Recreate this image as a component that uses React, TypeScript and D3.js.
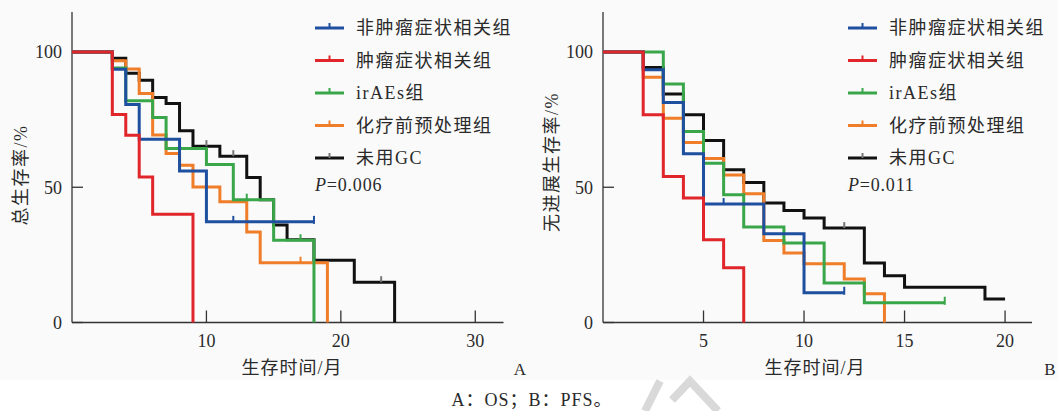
import React from "react";
import * as d3 from "d3";

// groups & colours
const groups = ["非肿瘤症状相关组", "肿瘤症状相关组", "irAEs组", "化疗前预处理组", "未用GC"];
const colors = ["#1f4f9f", "#e0262b", "#3aa64a", "#ef7d29", "#111111"];

// OS (panel A): step times (months) and survival (%) after each step
const osBlueT = [0, 3, 4, 5, 8, 10];
const osBlueS = [100, 93.6, 80.6, 67.7, 56, 37.2];
const osRedT = [0, 3, 4, 5, 6, 9];
const osRedS = [100, 76.9, 69.2, 53.8, 40, 0];
const osGreenT = [0, 3, 4, 6, 7, 10, 12, 15, 18];
const osGreenS = [100, 94.1, 82, 75.8, 64.3, 58.4, 45.4, 30.4, 0];
const osOrangeT = [0, 3, 4, 5, 6, 7, 8, 9, 11, 13, 14, 19];
const osOrangeS = [100, 96.8, 93.7, 84.7, 69.3, 62.5, 58.1, 50.1, 44.6, 33.5, 22.1, 0];
const osBlackT = [0, 3, 4, 5, 6, 7, 8, 9, 11, 13, 14, 15, 16, 18, 21, 24];
const osBlackS = [100, 97.7, 92.1, 89.6, 83.2, 81, 70.9, 65.2, 61.5, 53.6, 45.4, 36, 30.6, 23, 14.9, 0];
const osEnd = [18, 9, 18, 19, 24];
const osCensor = [[12, 18], [], [13, 17], [17], [10, 12, 23]];

// PFS (panel B)
const pfsBlueT = [0, 2, 3, 4, 5, 8, 10];
const pfsBlueS = [100, 93.4, 81.3, 62.4, 43.8, 32.8, 11];
const pfsRedT = [0, 2, 3, 4, 5, 6, 7];
const pfsRedS = [100, 76.8, 54, 46, 30.6, 20.2, 0];
const pfsGreenT = [0, 3, 4, 5, 6, 7, 9, 11, 13];
const pfsGreenS = [100, 88.2, 70.6, 58.9, 47.2, 35.3, 29.4, 14.6, 7.3];
const pfsOrangeT = [0, 2, 3, 4, 5, 6, 7, 8, 9, 10, 12, 13, 14];
const pfsOrangeS = [100, 90.7, 75.5, 66.5, 60.6, 54.5, 47.6, 30.3, 25.7, 21.7, 16.1, 10.6, 0];
const pfsBlackT = [0, 2, 3, 4, 5, 6, 7, 8, 9, 10, 11, 13, 14, 15, 19];
const pfsBlackS = [100, 94.3, 84.5, 76.8, 67.3, 56.5, 51.8, 44.2, 41.4, 38.6, 34.9, 22, 17.3, 13, 8.7];
const pfsEnd = [12, 7, 17, 14, 20];
const pfsCensor = [[6, 12], [], [17], [], [12]];

const yTicks = [0, 50, 100];
const osXTicks = [10, 20, 30];
const pfsXTicks = [5, 10, 15, 20];

const FONT = "'Liberation Serif', 'Noto Sans CJK SC', serif";
const TXT = "#2a2a2a";

function Panel({ x0, x1, xMax, xTicks, times, surv, ends, censors, yLabel, yLabelX, yLabelY, legendX, pText, xLabelX, letter, letterX }) {
  const x = d3.scaleLinear().domain([0, xMax]).range([x0, x1]);
  const y = d3.scaleLinear().domain([0, 100]).range([322.5, 52]);
  const line = d3
    .line()
    .x((d) => x(d[0]))
    .y((d) => y(d[1]))
    .curve(d3.curveStepAfter);

  const order = [4, 3, 2, 0, 1];
  const valueAt = (i, t) => {
    let v = surv[i][0];
    times[i].forEach((tt, k) => {
      if (tt <= t) v = surv[i][k];
    });
    return v;
  };

  return (
    <g>
      {/* axes */}
      <line x1={x0} x2={x0} y1={12} y2={y(0)} stroke="#333" strokeWidth={1.3} />
      <line x1={x0} x2={x1} y1={y(0)} y2={y(0)} stroke="#333" strokeWidth={1.3} />
      {yTicks.map((t) => (
        <g key={t}>
          <line x1={x0} x2={x0 + 11} y1={y(t)} y2={y(t)} stroke="#333" strokeWidth={1.3} />
          <text x={x0 - 10} y={y(t)} dy="0.35em" textAnchor="end" fontSize={18} fill={TXT}>{t}</text>
        </g>
      ))}
      {xTicks.map((t) => (
        <g key={t}>
          <line x1={x(t)} x2={x(t)} y1={y(0)} y2={y(0) - 12} stroke="#333" strokeWidth={1.3} />
          <text x={x(t)} y={347} textAnchor="middle" fontSize={18} fill={TXT}>{t}</text>
        </g>
      ))}
      <text transform={`translate(${yLabelX},${yLabelY}) rotate(-90)`} textAnchor="middle" dy="0.35em" fontSize={18} letterSpacing={1.5} fill={TXT}>{yLabel}</text>
      <text x={xLabelX} y={374} textAnchor="middle" fontSize={18} letterSpacing={1} fill={TXT}>生存时间/月</text>
      <text x={letterX} y={375} textAnchor="middle" fontSize={17} fill={TXT}>{letter}</text>

      {/* curves */}
      {order.map((i) => {
        const pts = times[i].map((t, k) => [t, surv[i][k]]);
        pts.push([ends[i], surv[i][surv[i].length - 1]]);
        return (
          <g key={i}>
            <path d={line(pts)} fill="none" stroke={colors[i]} strokeWidth={3} />
            {censors[i].map((c) => (
              <line key={c} x1={x(c)} x2={x(c)} y1={y(valueAt(i, c)) + (c === ends[i] ? 2 : 0)} y2={y(valueAt(i, c)) - 6} stroke={i === 4 ? "#777" : colors[i]} strokeWidth={2} />
            ))}
          </g>
        );
      })}

      {/* legend */}
      {groups.map((g, i) => {
        const ly = 28 + i * 32.5;
        return (
          <g key={g}>
            <line x1={legendX} x2={legendX + 29} y1={ly} y2={ly} stroke={colors[i]} strokeWidth={3} />
            <line x1={legendX + 14.5} x2={legendX + 14.5} y1={ly} y2={ly - 5} stroke={i === 4 ? "#777" : colors[i]} strokeWidth={2} />
            <text x={legendX + 41} y={ly} dy="0.36em" fontSize={18} letterSpacing={1.5} fill={TXT}>{g}</text>
          </g>
        );
      })}
      <text x={legendX} y={191} fontSize={18} fill={TXT} letterSpacing={0.8}>
        <tspan fontStyle="italic">P</tspan>=0.{pText}
      </text>
    </g>
  );
}

export default function App() {
  return (
    <svg width={1058} height={411} style={{ position: "absolute", left: 0, top: 0, fontFamily: FONT }}>
      <rect x={0} y={0} width={1058} height={380} fill="#fafafa" />
      <rect x={0} y={380} width={1058} height={31} fill="#ffffff" />
      {/* faint watermark strokes */}
      <path d="M660,381 L645,411" stroke="#d9d9d9" strokeWidth={8} fill="none" />
      <path d="M672,400 L690,381 L718,411" stroke="#d9d9d9" strokeWidth={8} fill="none" />
      <Panel
        x0={72}
        x1={503.5}
        xMax={32.1}
        xTicks={osXTicks}
        times={[osBlueT, osRedT, osGreenT, osOrangeT, osBlackT]}
        surv={[osBlueS, osRedS, osGreenS, osOrangeS, osBlackS]}
        ends={osEnd}
        censors={osCensor}
        yLabel="总生存率/%"
        yLabelX={21}
        yLabelY={175}
        legendX={315}
        pText="006"
        xLabelX={292}
        letter="A"
        letterX={520}
      />
      <Panel
        x0={603}
        x1={1032}
        xMax={21.34}
        xTicks={pfsXTicks}
        times={[pfsBlueT, pfsRedT, pfsGreenT, pfsOrangeT, pfsBlackT]}
        surv={[pfsBlueS, pfsRedS, pfsGreenS, pfsOrangeS, pfsBlackS]}
        ends={pfsEnd}
        censors={pfsCensor}
        yLabel="无进展生存率/%"
        yLabelX={552}
        yLabelY={162}
        legendX={848}
        pText="011"
        xLabelX={815}
        letter="B"
        letterX={1050}
      />
      <text x={532} y={406} textAnchor="middle" fontSize={18} letterSpacing={1} fill={TXT}>A：OS；B：PFS。</text>
    </svg>
  );
}
